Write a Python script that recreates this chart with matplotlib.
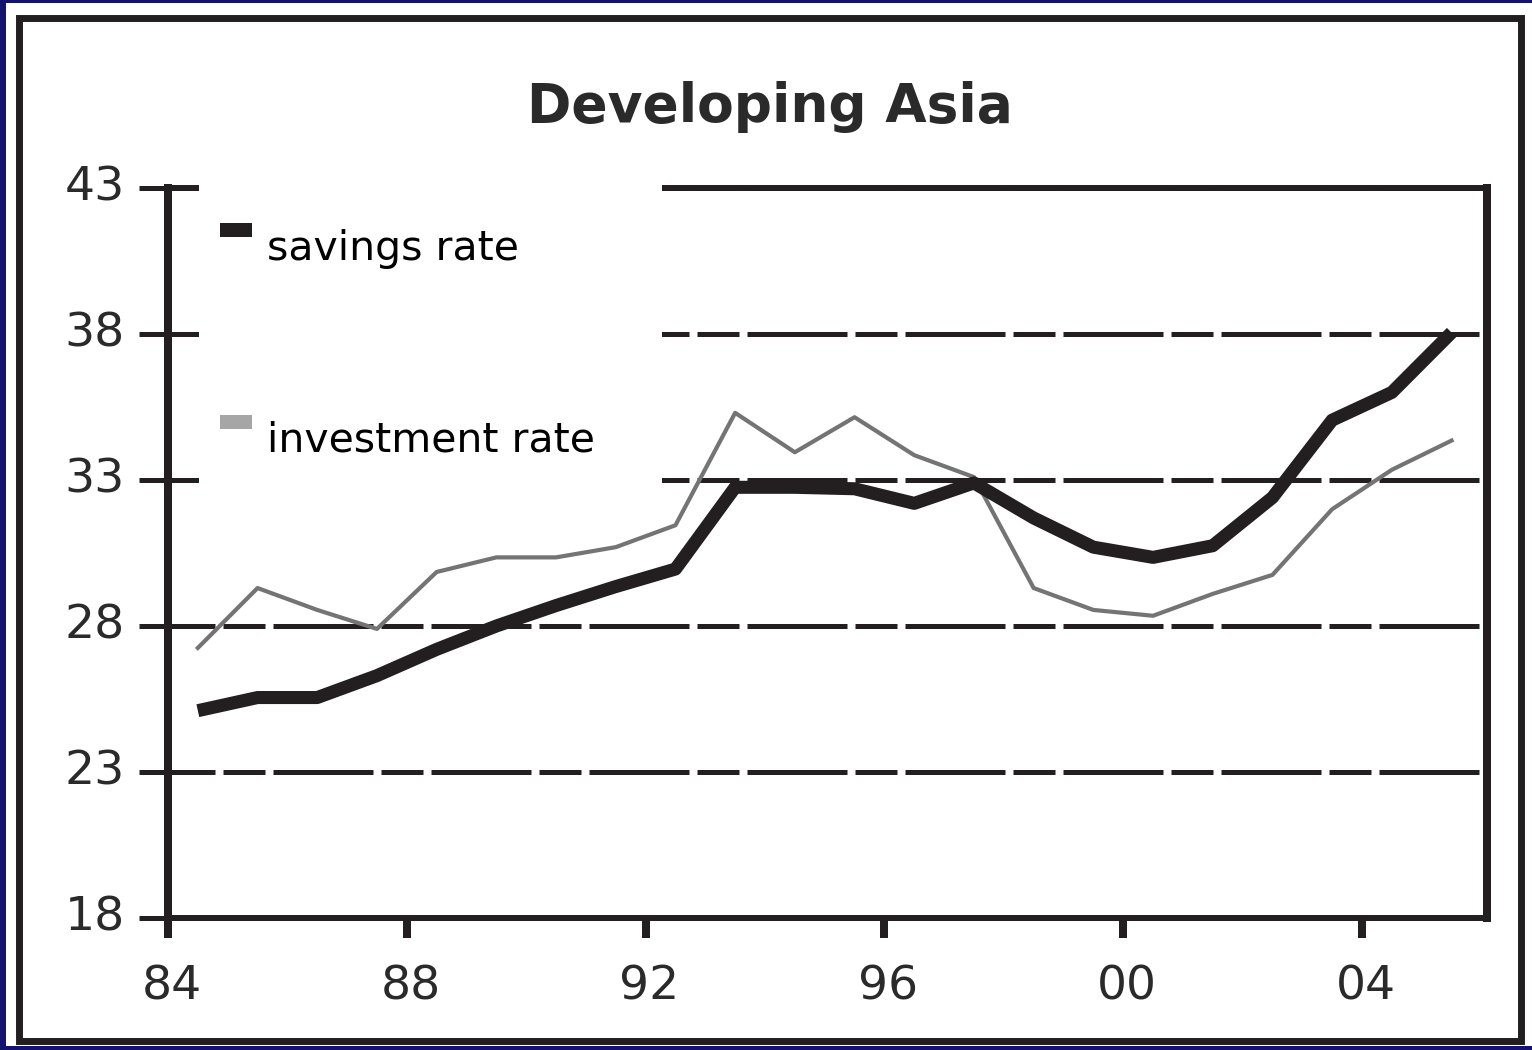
import matplotlib
matplotlib.use('Agg')
import matplotlib.pyplot as plt
import matplotlib.transforms as mtransforms
from matplotlib.patches import Rectangle, Patch
from matplotlib.legend_handler import HandlerPatch

W, H = 1532.0, 1050.0
INK = '#231f20'

years = list(range(1984, 2006))
savings = [25.1, 25.55, 25.55, 26.3, 27.2, 28.0, 28.7, 29.35, 29.95, 32.75, 32.75,
           32.7, 32.2, 32.9, 31.7, 30.7, 30.35, 30.75, 32.4, 35.05, 36.0, 38.05]
investment = [27.25, 29.3, 28.55, 27.9, 29.85, 30.35, 30.35, 30.7, 31.45, 35.3, 33.95,
              35.15, 33.85, 33.1, 29.3, 28.55, 28.35, 29.1, 29.75, 32.0, 33.35, 34.35]

xticks = [1984, 1988, 1992, 1996, 2000, 2004]
xlabels = ['84', '88', '92', '96', '00', '04']
yticks = [18, 23, 28, 33, 38, 43]

fig = plt.figure(figsize=(W / 100, H / 100), dpi=100, facecolor='#141470')

# white page and black frame around the chart
fig.patches.append(Rectangle((6 / W, 1 - 1046 / H), (W - 6) / W, 1043 / H,
                             transform=fig.transFigure, facecolor='white',
                             edgecolor='none', zorder=-2))
fig.patches.append(Rectangle((18.5 / W, 1 - 1040.5 / H), 1502 / W, 1022.5 / H,
                             transform=fig.transFigure, fill=False,
                             edgecolor=INK, linewidth=5, zorder=-1))

ax = fig.add_axes([168 / W, 1 - 918 / H, (1487 - 168) / W, (918 - 188) / H])

# data plotted at mid-year
xs = [y + 0.5 for y in years]
ax.plot(xs, investment, color='#747474', linewidth=3.0, zorder=3,
        solid_joinstyle='round')
ax.plot(xs, savings, color=INK, linewidth=9.4, zorder=4,
        solid_joinstyle='round', solid_capstyle='butt')

ax.set_xlim(1984, 1984 + (1487 - 168) / 59.7)
ax.set_ylim(18, 43)

ax.set_xticks(xticks)
ax.set_xticklabels(xlabels)
ax.set_yticks(yticks)

ax.yaxis.grid(True, color=INK, linewidth=3.6,
              linestyle=(10.6, (20, 1.6, 8.4, 1.6)))
ax.xaxis.grid(False)

for side, lw in [('left', 5.76), ('right', 5.76), ('top', 4.3), ('bottom', 4.3)]:
    ax.spines[side].set_linewidth(lw)
    ax.spines[side].set_color(INK)

ax.tick_params(axis='y', direction='inout', length=41.8, width=3.6, color=INK,
               pad=10, labelsize=34, labelcolor='#2a2a2a')
ax.tick_params(axis='x', direction='out', length=14.4, width=5.76, color=INK,
               pad=19, labelsize=34, labelcolor='#2a2a2a')

shift = mtransforms.ScaledTranslation(0, 0.05, fig.dpi_scale_trans)
for lab in ax.get_yticklabels():
    lab.set_transform(lab.get_transform() + shift)
shift_x = mtransforms.ScaledTranslation(0.04, 0, fig.dpi_scale_trans)
for lab in ax.get_xticklabels():
    lab.set_transform(lab.get_transform() + shift_x)

# blank area behind the legend hides the grid there
cover = Rectangle((199 / W, 1 - 490 / H), (662 - 199) / W, (490 - 175) / H,
                  transform=fig.transFigure, facecolor='white', edgecolor='none',
                  zorder=2.7, clip_on=False)
ax.add_artist(cover)


def raised_box(legend, orig_handle, xdescent, ydescent, width, height, fontsize):
    return Rectangle((-xdescent, -ydescent + 16.6), width, 10)


handles = [Patch(facecolor=INK, label='savings rate'),
           Patch(facecolor='#a6a6a6', label='investment rate')]
leg = ax.legend(handles=handles, loc='upper left', frameon=False,
                bbox_to_anchor=(220 / W, 1 - 229 / H),
                bbox_transform=fig.transFigure, borderpad=0, borderaxespad=0,
                handlelength=0.77, handleheight=0.7, handletextpad=0.37,
                labelspacing=3.7, prop={'family': 'DejaVu Sans', 'size': 29.5},
                handler_map={Patch: HandlerPatch(patch_func=raised_box)})
leg.set_zorder(5)

fig.text(770 / W, 1 - 122 / H, 'Developing Asia', ha='center', va='baseline',
         fontsize=38.5, fontweight='bold', color='#2a2a2a', family='DejaVu Sans')

fig.savefig('out.png', dpi=100, facecolor=fig.get_facecolor())
